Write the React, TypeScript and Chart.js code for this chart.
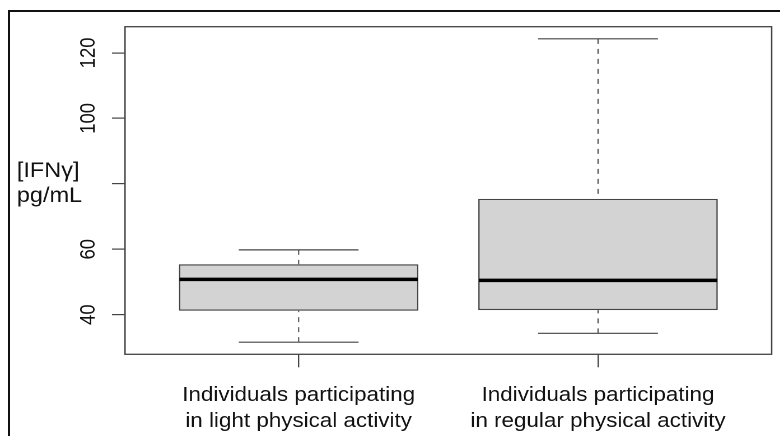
import React, { useEffect, useRef } from "react";
import { Chart, registerables } from "chart.js";

Chart.register(...registerables);

// ---- data ----
const categories: string[][] = [
  ["Individuals participating", "in light physical activity"],
  ["Individuals participating", "in regular physical activity"],
];
const positions = [1, 2];
const mins = [31.6, 34.3];
const q1s = [41.2, 41.4];
const medians = [50.8, 50.5];
const q3s = [55.4, 75.4];
const maxs = [59.8, 124.3];
const yTicks = [40, 60, 80, 100, 120];
const yTickLabels = ["40", "60", "", "100", "120"];
const yTitle = ["[IFNγ]", "pg/mL"];

// ---- layout ----
const W = 780;
const H = 436;
const SX = 1.12; // horizontal stretch of the reference image
const CW = W / SX;
const PLOT_LEFT = 125 / SX;
const PLOT_RIGHT = 771.7 / SX;
const PLOT_TOP = 26.7;
const PLOT_BOTTOM = 354.3;
const FONT = "'Liberation Sans', Arial, Helvetica, sans-serif";

export default function App() {
  const ref = useRef<HTMLCanvasElement>(null);

  useEffect(() => {
    const canvas = ref.current;
    if (!canvas) return;

    const lo = Math.min(...mins);
    const hi = Math.max(...maxs);
    const ext = (hi - lo) * 0.04;

    const extras = {
      id: "boxExtras",
      beforeDatasetsDraw(chart: any) {
        const { ctx, scales } = chart;
        const x = scales.x;
        const y = scales.y;
        const meta = chart.getDatasetMeta(0);
        ctx.save();
        meta.data.forEach((bar: any, i: number) => {
          const cx = x.getPixelForValue(positions[i]);
          const hw = bar.width / 2;
          ctx.strokeStyle = "#555";
          ctx.lineWidth = 1.1;
          ctx.setLineDash([5, 5]);
          ctx.beginPath();
          ctx.moveTo(cx, y.getPixelForValue(maxs[i]));
          ctx.lineTo(cx, y.getPixelForValue(q3s[i]));
          ctx.moveTo(cx, y.getPixelForValue(mins[i]));
          ctx.lineTo(cx, y.getPixelForValue(q1s[i]));
          ctx.stroke();
          ctx.setLineDash([]);
          ctx.strokeStyle = "#444";
          ctx.lineWidth = 1.2;
          ctx.beginPath();
          const yMax = y.getPixelForValue(maxs[i]);
          const yMin = y.getPixelForValue(mins[i]);
          ctx.moveTo(cx - hw / 2, yMax);
          ctx.lineTo(cx + hw / 2, yMax);
          ctx.moveTo(cx - hw / 2, yMin);
          ctx.lineTo(cx + hw / 2, yMin);
          ctx.stroke();
        });
        ctx.restore();
      },
      afterDatasetsDraw(chart: any) {
        const { ctx, scales } = chart;
        const x = scales.x;
        const y = scales.y;
        const meta = chart.getDatasetMeta(0);
        ctx.save();
        meta.data.forEach((bar: any, i: number) => {
          const cx = x.getPixelForValue(positions[i]);
          const hw = bar.width / 2;
          const ym = y.getPixelForValue(medians[i]);
          ctx.strokeStyle = "#000";
          ctx.lineWidth = 3.5;
          ctx.lineCap = "butt";
          ctx.beginPath();
          ctx.moveTo(cx - hw + 0.5, ym);
          ctx.lineTo(cx + hw - 0.5, ym);
          ctx.stroke();
        });
        ctx.restore();
      },
      afterDraw(chart: any) {
        const { ctx, chartArea } = chart;
        ctx.save();
        ctx.strokeStyle = "#444";
        ctx.lineWidth = 1.3;
        ctx.strokeRect(
          chartArea.left,
          chartArea.top,
          chartArea.right - chartArea.left,
          chartArea.bottom - chartArea.top
        );
        ctx.fillStyle = "#111";
        ctx.font = `21px ${FONT}`;
        ctx.textAlign = "left";
        ctx.textBaseline = "middle";
        ctx.fillText(yTitle[0], 15, 171);
        ctx.fillText(yTitle[1], 15, 196);
        ctx.restore();
      },
    };

    const chart = new Chart(canvas, {
      type: "bar",
      data: {
        datasets: [
          {
            data: positions.map((p, i) => ({ x: p, y: [q1s[i], q3s[i]] })) as any,
            backgroundColor: "#d3d3d3",
            borderColor: "#444",
            borderWidth: 1.3,
            borderSkipped: false,
            barPercentage: 0.8,
            categoryPercentage: 1,
          },
        ],
      },
      options: {
        animation: false,
        responsive: true,
        maintainAspectRatio: false,
        devicePixelRatio: 2,
        layout: { padding: { top: PLOT_TOP, right: CW - PLOT_RIGHT, bottom: 0, left: 0 } },
        plugins: { legend: { display: false }, tooltip: { enabled: false }, title: { display: false } },
        scales: {
          x: {
            type: "linear",
            min: 0.42,
            max: 2.58,
            offset: false,
            border: { display: false },
            grid: {
              offset: false,
              drawOnChartArea: false,
              drawTicks: true,
              tickLength: 13,
              color: "#444",
              lineWidth: 1.2,
            },
            afterBuildTicks: (scale: any) => {
              scale.ticks = positions.map((v) => ({ value: v }));
            },
            afterFit: (scale: any) => {
              scale.height = H - PLOT_BOTTOM;
            },
            ticks: {
              autoSkip: false,
              maxRotation: 0,
              minRotation: 0,
              padding: 15,
              color: "#111",
              font: { size: 20, family: FONT, lineHeight: 1.3 },
              callback: (v: any) => {
                const idx = positions.indexOf(Number(v));
                return idx >= 0 ? categories[idx] : "";
              },
            },
          },
          y: {
            type: "linear",
            min: lo - ext,
            max: hi + ext,
            border: { display: false },
            grid: {
              offset: false,
              drawOnChartArea: false,
              drawTicks: true,
              tickLength: 13 / SX,
              color: "#444",
              lineWidth: 1.2,
            },
            afterBuildTicks: (scale: any) => {
              scale.ticks = yTicks.map((v) => ({ value: v }));
            },
            afterFit: (scale: any) => {
              scale.width = PLOT_LEFT;
            },
            ticks: {
              autoSkip: false,
              minRotation: 90,
              maxRotation: 90,
              crossAlign: "center",
              padding: 5,
              color: "#111",
              font: { size: 18.5, family: FONT },
              callback: (v: any) => {
                const idx = yTicks.indexOf(Number(v));
                return idx >= 0 ? yTickLabels[idx] : "";
              },
            },
          },
        },
      },
      plugins: [extras],
    } as any);

    return () => chart.destroy();
  }, []);

  return (
    <div
      style={{
        position: "fixed",
        left: 0,
        top: 0,
        width: W,
        height: H,
        overflow: "hidden",
        background: "#fff",
      }}
    >
      <div
        style={{
          position: "absolute",
          left: 8,
          top: 10,
          width: 900,
          height: 600,
          borderLeft: "2px solid #111",
          borderTop: "2px solid #111",
        }}
      />
      <div
        style={{
          position: "absolute",
          left: 0,
          top: 0,
          width: CW,
          height: H,
          transform: `scaleX(${SX})`,
          transformOrigin: "0 0",
        }}
      >
        <canvas ref={ref} />
      </div>
    </div>
  );
}
